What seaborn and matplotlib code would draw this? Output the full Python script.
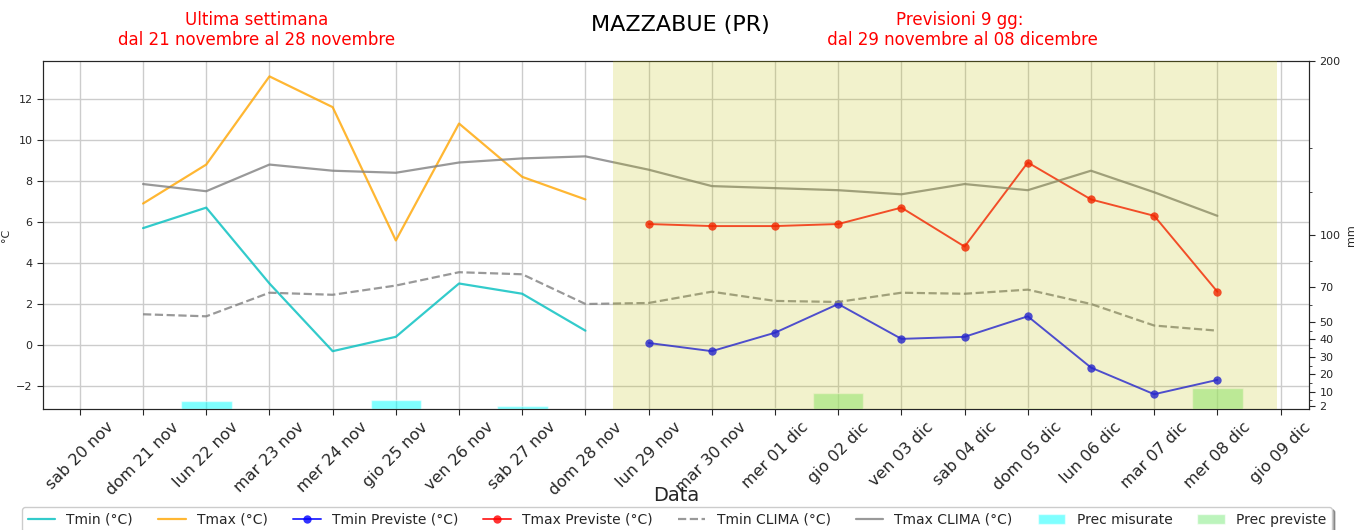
import pandas as pd
import numpy as np
import matplotlib
matplotlib.use("Agg")
import matplotlib.pyplot as plt
import seaborn as sns

# dati
giorni = pd.date_range("2021-11-20", "2021-12-09", freq="D")
etichette = ["sab 20 nov", "dom 21 nov", "lun 22 nov", "mar 23 nov", "mer 24 nov",
             "gio 25 nov", "ven 26 nov", "sab 27 nov", "dom 28 nov", "lun 29 nov",
             "mar 30 nov", "mer 01 dic", "gio 02 dic", "ven 03 dic", "sab 04 dic",
             "dom 05 dic", "lun 06 dic", "mar 07 dic", "mer 08 dic", "gio 09 dic"]

giorni_oss = pd.date_range("2021-11-21", "2021-11-28", freq="D")
tmin = [5.7, 6.7, 3.0, -0.3, 0.4, 3.0, 2.5, 0.7]
tmax = [6.9, 8.8, 13.1, 11.6, 5.1, 10.8, 8.2, 7.1]

giorni_prev = pd.date_range("2021-11-29", "2021-12-08", freq="D")
tmin_prev = [0.1, -0.3, 0.6, 2.0, 0.3, 0.4, 1.4, -1.1, -2.4, -1.7]
tmax_prev = [5.9, 5.8, 5.8, 5.9, 6.7, 4.8, 8.9, 7.1, 6.3, 2.6]

giorni_clima = pd.date_range("2021-11-21", "2021-12-08", freq="D")
tmin_clima = [1.5, 1.4, 2.55, 2.45, 2.9, 3.55, 3.45, 2.0, 2.05, 2.6, 2.15, 2.1,
              2.55, 2.5, 2.7, 2.0, 0.95, 0.7]
tmax_clima = [7.85, 7.5, 8.8, 8.5, 8.4, 8.9, 9.1, 9.2, 8.55, 7.75, 7.65, 7.55,
              7.35, 7.85, 7.55, 8.5, 7.45, 6.3]

prec_mis = [0.0, 4.5, 0.0, 0.0, 5.0, 0.0, 2.0, 0.0]
prec_prev = [0.0, 0.0, 0.5, 9.0, 0.0, 0.0, 0.3, 0.0, 0.0, 12.0]

sns.set_style("white")
plt.rcParams['font.family'] = ['DejaVu Sans']

fig = plt.figure(figsize=(13.61, 5.30), dpi=100)
ax = fig.add_axes([43/1361, 1 - 409/530, (1309-43)/1361, (409-61)/530])
ax2 = ax.twinx()

# Grafico temperature
sns.lineplot(x=giorni_oss, y=tmin, color="c", alpha=0.8, lw=1.6, ax=ax, label="Tmin (°C)")
sns.lineplot(x=giorni_oss, y=tmax, color="orange", alpha=0.8, lw=1.6, ax=ax, label="Tmax (°C)")
sns.lineplot(x=giorni_prev, y=tmin_prev, color="b", alpha=0.8, lw=1.4, marker="o",
             markersize=6, markeredgewidth=0, ax=ax, label="Tmin Previste (°C)")
sns.lineplot(x=giorni_prev, y=tmax_prev, color="r", alpha=0.8, lw=1.4, marker="o",
             markersize=6, markeredgewidth=0, ax=ax, label="Tmax Previste (°C)")
sns.lineplot(x=giorni_clima, y=tmin_clima, color="gray", alpha=0.8, lw=1.6, ls="--",
             ax=ax, label="Tmin CLIMA (°C)")
sns.lineplot(x=giorni_clima, y=tmax_clima, color="gray", alpha=0.8, lw=1.6,
             ax=ax, label="Tmax CLIMA (°C)")

# Precipitazioni
b1 = ax2.bar(giorni_oss, prec_mis, width=0.8, color="aqua", alpha=0.5, label="Prec misurate")
b2 = ax2.bar(giorni_prev, prec_prev, width=0.8, color="lightgreen", alpha=0.6, label="Prec previste")
ax2.set_ylim(0, 200)
ax2.set_yticks([2, 10, 20, 30, 40, 50, 70, 100, 200])
ax2.set_yticks([5, 15, 25, 35, 45, 60, 85, 125, 150], minor=True)
ax2.tick_params(axis="y", which="major", length=4, labelsize=8, direction="out", right=True)
ax2.tick_params(axis="y", which="minor", length=2, direction="out", right=True)
ax2.set_ylabel("mm", fontsize=8)

# periodo di previsione
ax2.axvspan(pd.Timestamp("2021-11-28 10:20"), pd.Timestamp("2021-12-08 22:30"),
            color="y", alpha=0.2, lw=0, zorder=10)

ax.set_xlim(pd.Timestamp("2021-11-20") - pd.Timedelta(hours=14),
            pd.Timestamp("2021-12-09") + pd.Timedelta(hours=10.8))
ax.set_ylim(-3.12, 13.85)
ax.set_xticks(giorni)
ax.set_xticklabels(etichette, rotation=45, fontsize=11.5)
ax.tick_params(axis="x", length=4, direction="out", bottom=True)
ax.tick_params(axis="y", length=4, labelsize=8, direction="out", left=True)
ax.set_yticks([-2, 0, 2, 4, 6, 8, 10, 12])
ax.grid(True, color="#cccccc", lw=1)
ax.set_ylabel("°C", fontsize=8)
ax.set_xlabel("Data", fontsize=14)
ax.xaxis.set_label_coords(0.5, -(486 - 409) / 348)

# titoli
fig.text(680/1361, 1 - 25/530, "MAZZABUE (PR)", fontsize=16, color="black",
         ha="center", va="center")
fig.text(257/1361, 1 - 30/530, "Ultima settimana\ndal 21 novembre al 28 novembre",
         fontsize=12, color="red", ha="center", va="center")
fig.text(960/1361, 1 - 30/530, "Previsioni 9 gg:\n dal 29 novembre al 08 dicembre",
         fontsize=12, color="red", ha="center", va="center")

# legenda
h1, l1 = ax.get_legend_handles_labels()
ax.get_legend().remove()
leg = fig.legend(h1 + [b1, b2], l1 + ["Prec misurate", "Prec previste"], ncol=8,
                 loc="upper center", bbox_to_anchor=(677/1361, 1 - 507/530),
                 fontsize=10, frameon=True, shadow=True, borderaxespad=0,
                 columnspacing=1.8)

fig.savefig("out.png", dpi=100)
